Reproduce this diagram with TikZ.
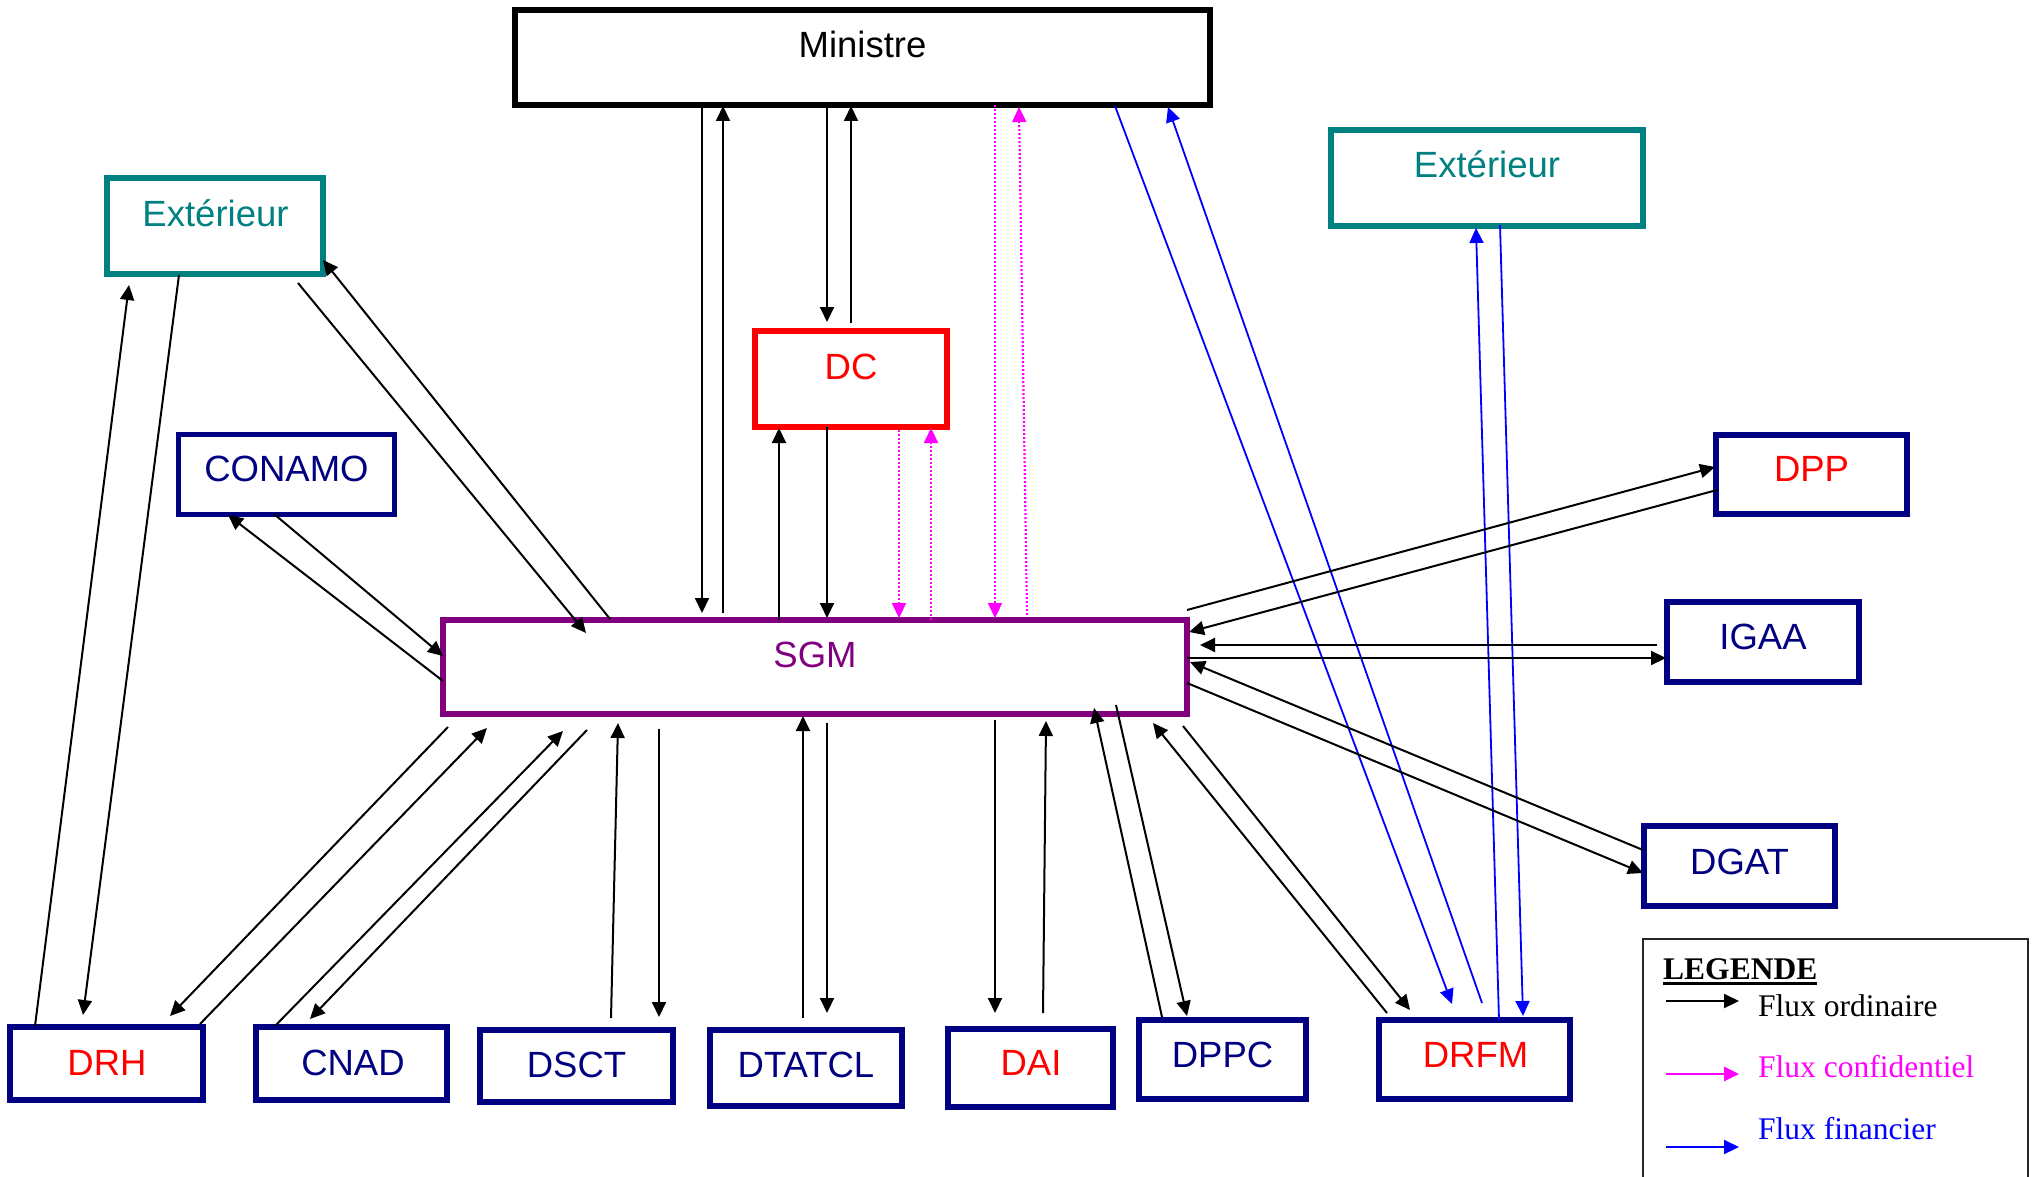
\documentclass[tikz,border=0pt]{standalone}
\usepackage{fontspec}
\setmainfont{Liberation Serif}
\newfontfamily\arialf{Liberation Sans}
\usetikzlibrary{arrows.meta}
\definecolor{tealx}{RGB}{0,128,128}
\definecolor{navyx}{RGB}{0,0,128}
\definecolor{purpx}{RGB}{128,0,128}
\definecolor{magx}{RGB}{255,0,255}
\definecolor{bluex}{RGB}{0,0,255}
\definecolor{redx}{RGB}{255,0,0}
\begin{document}
\begin{tikzpicture}[x=1pt,y=-1pt,
  box/.style={draw, line width=5.5pt, inner sep=0pt, outer sep=0pt, fill=white},
  lbl/.style={inner sep=0pt, anchor=base, font=\arialf\fontsize{36.5}{40}\selectfont},
  tipx/.style={-{Triangle[length=15pt,width=14pt]}},
  blk/.style={tipx, line width=2pt, black},
  conf/.style={tipx, line width=2.2pt, magx, dash pattern=on 2pt off 2pt},
  fin/.style={tipx, line width=1.8pt, bluex},
  legt/.style={inner sep=0pt, anchor=base west, font=\fontsize{31.5}{34}\selectfont}]
\useasboundingbox (0,0) rectangle (2033,1177);
\fill[white] (0,0) rectangle (2033,1177);

% boxes
\node[box, draw=black, minimum width=695pt, minimum height=95pt] (min) at (862.5,57.5) {};
\node[box, draw=tealx, minimum width=216pt, minimum height=96pt] (extL) at (215,226) {};
\node[box, draw=tealx, minimum width=312pt, minimum height=96pt] (extR) at (1487,178) {};
\node[box, draw=redx, minimum width=192pt, minimum height=96pt] (dc) at (851,379) {};
\node[box, draw=navyx, minimum width=216pt, minimum height=80pt] (conamo) at (286.5,474.5) {};
\node[box, draw=purpx, minimum width=744pt, minimum height=94pt] (sgm) at (815,667) {};
\node[box, draw=navyx, minimum width=191pt, minimum height=79pt] (dpp) at (1811.5,474.5) {};
\node[box, draw=navyx, minimum width=192pt, minimum height=80pt] (igaa) at (1763,642) {};
\node[box, draw=navyx, minimum width=191pt, minimum height=80pt] (dgat) at (1739.5,866) {};
\node[box, draw=navyx, minimum width=193pt, minimum height=73pt] (drh) at (106.5,1063.5) {};
\node[box, draw=navyx, minimum width=191pt, minimum height=73pt] (cnad) at (351.5,1063.5) {};
\node[box, draw=navyx, minimum width=193pt, minimum height=72pt] (dsct) at (576.5,1066) {};
\node[box, draw=navyx, minimum width=192pt, minimum height=76pt] (dtatcl) at (806,1068) {};
\node[box, draw=navyx, minimum width=165pt, minimum height=78pt] (dai) at (1030.5,1068) {};
\node[box, draw=navyx, minimum width=167pt, minimum height=79pt] (dppc) at (1222.5,1059.5) {};
\node[box, draw=navyx, minimum width=191pt, minimum height=79pt] (drfm) at (1474.5,1059.5) {};

% labels
\node[lbl, text=black] (mint) at (862.5,58) {Ministre};
\node[lbl, text=tealx] (extLt) at (215.5,226) {Extérieur};
\node[lbl, text=tealx] (extRt) at (1487,178) {Extérieur};
\node[lbl, text=redx] (dct) at (851,379) {DC};
\node[lbl, text=navyx] (conamot) at (286.5,481) {CONAMO};
\node[lbl, text=purpx] (sgmt) at (815,667) {SGM};
\node[lbl, text=redx] (dppt) at (1811.5,481) {DPP};
\node[lbl, text=navyx] (igaat) at (1763,649) {IGAA};
\node[lbl, text=navyx] (dgatt) at (1739.5,874) {DGAT};
\node[lbl, text=redx] (drht) at (107,1075) {DRH};
\node[lbl, text=navyx] (cnadt) at (353,1075) {CNAD};
\node[lbl, text=navyx] (dsctt) at (576.5,1077) {DSCT};
\node[lbl, text=navyx] (dtatclt) at (806,1077) {DTATCL};
\node[lbl, text=redx] (dait) at (1031,1075) {DAI};
\node[lbl, text=navyx] (dppct) at (1222.5,1067) {DPPC};
\node[lbl, text=redx] (drfmt) at (1475.5,1067) {DRFM};

% Ministre <-> SGM, DC
\draw[blk] ([shift={(702-515,105-10)}]min.north west) -- ([shift={(702-443,613-620)}]sgm.north west);
\draw[blk] ([shift={(723-443,613-620)}]sgm.north west) -- ([shift={(723-515,106-10)}]min.north west);
\draw[blk] ([shift={(827-515,105-10)}]min.north west) -- ([shift={(827-755,322-331)}]dc.north west);
\draw[blk] ([shift={(851-755,323-331)}]dc.north west) -- ([shift={(851-515,106-10)}]min.north west);
\draw[blk] ([shift={(779-443,620-620)}]sgm.north west) -- ([shift={(779-755,428-331)}]dc.north west);
\draw[blk] ([shift={(827-755,427-331)}]dc.north west) -- ([shift={(827-443,618-620)}]sgm.north west);

% confidential
\draw[conf] ([shift={(899-755,430-331)}]dc.north west) -- ([shift={(899-443,618-620)}]sgm.north west);
\draw[conf] ([shift={(931-443,620-620)}]sgm.north west) -- ([shift={(931-755,428-331)}]dc.north west);
\draw[conf] ([shift={(995-515,105-10)}]min.north west) -- ([shift={(995-443,618-620)}]sgm.north west);
\draw[conf] ([shift={(1027-443,615-620)}]sgm.north west) -- ([shift={(1019-515,107-10)}]min.north west);

% financial
\draw[fin] ([shift={(1115-515,106-10)}]min.north west) -- ([shift={(1452-1379,1004-1020)}]drfm.north west);
\draw[fin] ([shift={(1482-1379,1003-1020)}]drfm.north west) -- ([shift={(1168-515,107-10)}]min.north west);
\draw[fin] ([shift={(1499-1379,1020-1020)}]drfm.north west) -- ([shift={(1476-1331,228-130)}]extR.north west);
\draw[fin] ([shift={(1500-1331,225-130)}]extR.north west) -- ([shift={(1523-1379,1016-1020)}]drfm.north west);

% Exterieur left, CONAMO
\draw[blk] ([shift={(298-107,283-178)}]extL.north west) -- ([shift={(586-443,633-620)}]sgm.north west);
\draw[blk] ([shift={(610-443,619-620)}]sgm.north west) -- ([shift={(323-107,260-178)}]extL.north west);
\draw[blk] ([shift={(274-178.5,514-434.5)}]conamo.north west) -- ([shift={(443-443,656-620)}]sgm.north west);
\draw[blk] ([shift={(443-443,681-620)}]sgm.north west) -- ([shift={(228-178.5,515-434.5)}]conamo.north west);

% DRH
\draw[blk] ([shift={(448-443,727-620)}]sgm.north west) -- ([shift={(170-10,1016-1027)}]drh.north west);
\draw[blk] ([shift={(200-10,1024-1027)}]drh.north west) -- ([shift={(487-443,728-620)}]sgm.north west);
\draw[blk] ([shift={(35-10,1026-1027)}]drh.north west) -- ([shift={(129-107,285-178)}]extL.north west);
\draw[blk] ([shift={(179-107,275-178)}]extL.north west) -- ([shift={(83-10,1015-1027)}]drh.north west);

% CNAD
\draw[blk] ([shift={(275-256,1026-1027)}]cnad.north west) -- ([shift={(563-443,731-620)}]sgm.north west);
\draw[blk] ([shift={(587-443,730-620)}]sgm.north west) -- ([shift={(310-256,1019-1027)}]cnad.north west);

% DSCT
\draw[blk] ([shift={(611-480,1018-1030)}]dsct.north west) -- ([shift={(618-443,723-620)}]sgm.north west);
\draw[blk] ([shift={(659-443,729-620)}]sgm.north west) -- ([shift={(659-480,1017-1030)}]dsct.north west);

% DTATCL
\draw[blk] ([shift={(803-710,1018-1030)}]dtatcl.north west) -- ([shift={(803-443,716-620)}]sgm.north west);
\draw[blk] ([shift={(827-443,723-620)}]sgm.north west) -- ([shift={(827-710,1013-1030)}]dtatcl.north west);

% DAI
\draw[blk] ([shift={(995-443,720-620)}]sgm.north west) -- ([shift={(995-948,1013-1029)}]dai.north west);
\draw[blk] ([shift={(1043-948,1013-1029)}]dai.north west) -- ([shift={(1046-443,721-620)}]sgm.north west);

% DPPC
\draw[blk] ([shift={(1162-1139,1017-1020)}]dppc.north west) -- ([shift={(1094-443,708-620)}]sgm.north west);
\draw[blk] ([shift={(1116-443,705-620)}]sgm.north west) -- ([shift={(1187-1139,1016-1020)}]dppc.north west);

% DRFM
\draw[blk] ([shift={(1387-1379,1013-1020)}]drfm.north west) -- ([shift={(1153-443,723-620)}]sgm.north west);
\draw[blk] ([shift={(1183-443,726-620)}]sgm.north west) -- ([shift={(1410-1379,1010-1020)}]drfm.north west);

% DPP
\draw[blk] ([shift={(1187-443,610-620)}]sgm.north west) -- ([shift={(1715-1716,467-435)}]dpp.north west);
\draw[blk] ([shift={(1717-1716,490-435)}]dpp.north west) -- ([shift={(1189-443,632-620)}]sgm.north west);

% IGAA
\draw[blk] ([shift={(1657-1667,645-602)}]igaa.north west) -- ([shift={(1200-443,645-620)}]sgm.north west);
\draw[blk] ([shift={(1187-443,658-620)}]sgm.north west) -- ([shift={(1666-1667,658-602)}]igaa.north west);

% DGAT
\draw[blk] ([shift={(1643-1644,850-826)}]dgat.north west) -- ([shift={(1190-443,662-620)}]sgm.north west);
\draw[blk] ([shift={(1187-443,683-620)}]sgm.north west) -- ([shift={(1643-1644,873-826)}]dgat.north west);

% legend
\draw[line width=2.5pt, black!85] (1643,1180) -- (1643,939) -- (2028,939) -- (2028,1180);
\node[legt, font=\fontsize{31.5}{34}\selectfont\bfseries] (legtitle) at (1663,979) {LEGENDE};
\draw[line width=3pt] ([yshift=-4.5pt]legtitle.base west) -- ([yshift=-4.5pt]legtitle.base east);
\coordinate (lo1) at (1666,1001); \coordinate (lo2) at (1739,1001);
\coordinate (lc1) at (1666,1074); \coordinate (lc2) at (1739,1074);
\coordinate (lf1) at (1666,1147); \coordinate (lf2) at (1739,1147);
\draw[blk] (lo1) -- (lo2);
\draw[tipx, line width=2.6pt, magx] (lc1) -- (lc2);
\draw[tipx, line width=2pt, bluex] (lf1) -- (lf2);
\node[legt, text=black] (lot) at (1758,1016) {Flux ordinaire};
\node[legt, text=magx] (lct) at (1758,1077) {Flux confidentiel};
\node[legt, text=bluex] (lft) at (1758,1139) {Flux financier};
\end{tikzpicture}
\end{document}
